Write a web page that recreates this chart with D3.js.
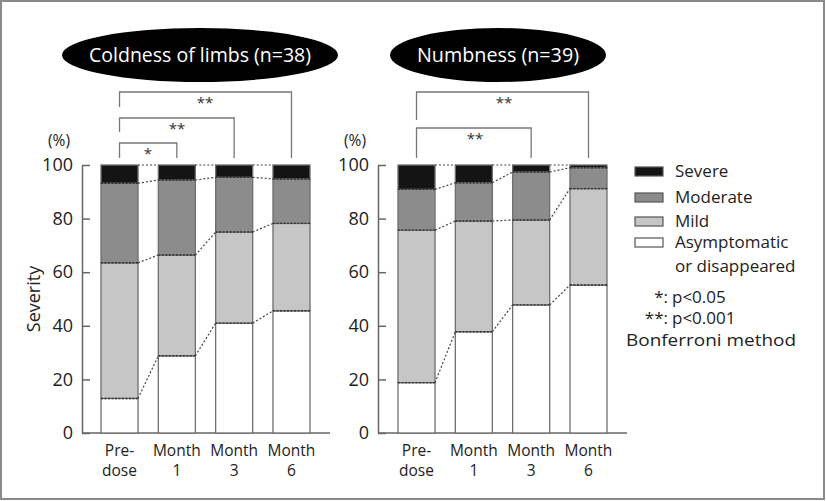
<!DOCTYPE html>
<html><head><meta charset="utf-8">
<script src="https://cdn.jsdelivr.net/npm/d3@7"></script>
<style>body{margin:0;background:#fff}svg{display:block}text{font-family:"Open Sans",sans-serif}</style>
</head><body><svg id="c" width="826" height="501"></svg>
<script>
const categories = ["Pre-dose","Month 1","Month 3","Month 6"];
const catLines = [["Pre-","dose"],["Month","1"],["Month","3"],["Month","6"]];
const layers = ["Asymptomatic or disappeared","Mild","Moderate","Severe"];
// Coldness of limbs (n=38), % per severity level
const coldAsym = [12.9, 28.8, 41.0, 45.6];
const coldMild = [50.6, 37.6, 34.0, 32.6];
const coldModerate = [29.7, 28.0, 20.4, 16.6];
const coldSevere = [6.8, 5.6, 4.6, 5.2];
// Numbness (n=39)
const numbAsym = [18.8, 37.8, 47.8, 55.2];
const numbMild = [56.9, 41.3, 31.7, 36.0];
const numbModerate = [15.2, 14.3, 17.9, 7.8];
const numbSevere = [9.1, 6.6, 2.6, 1.0];
const yTicks = [0,20,40,60,80,100];
const coldSig = [{a:0,b:1,label:"*"},{a:0,b:2,label:"**"},{a:0,b:3,label:"**"}];
const numbSig = [{a:0,b:2,label:"**"},{a:0,b:3,label:"**"}];
const legendNotes = ["*: p<0.05","**: p<0.001","Bonferroni method"];

const fills = ["#ffffff","#c6c6c6","#8c8c8c","#141414"];
const svg = d3.select("#c");
svg.append("rect").attr("x",1).attr("y",1).attr("width",823).attr("height",498)
  .attr("fill","#fff").attr("stroke","#8a8a8a").attr("stroke-width",2);

const y = d3.scaleLinear().domain([0,100]).range([433,165]);

function panel(opts){
  const g = svg.append("g");
  const x = d3.scaleBand().domain(categories).range(opts.xr).paddingInner(0.354).paddingOuter(0);
  const series = opts.data;
  const table = categories.map((c,i)=>{const o={cat:c}; layers.forEach((l,j)=>o[l]=series[j][i]); return o;});
  const stacked = d3.stack().keys(layers)(table);
  // title ellipse
  g.append("ellipse").attr("cx",opts.tcx).attr("cy",55).attr("rx",opts.trx).attr("ry",27).attr("fill","#000");
  g.append("text").attr("x",opts.tcx).attr("y",62).attr("text-anchor","middle").attr("fill","#fff")
    .attr("font-size",20).attr("textLength",opts.tlen).attr("lengthAdjust","spacingAndGlyphs").text(opts.title);
  // y axis (inward ticks)
  const ax = g.append("g").attr("transform",`translate(${opts.axisX},0)`)
    .call(d3.axisLeft(y).tickValues(yTicks).tickSizeInner(-8).tickSizeOuter(0).tickPadding(9));
  ax.select(".domain").attr("stroke","#666").attr("stroke-width",1.5);
  ax.selectAll(".tick line").attr("stroke","#666").attr("stroke-width",1.5);
  ax.selectAll(".tick text").attr("font-size",18).attr("fill","#222").attr("font-family","Open Sans");
  g.append("text").attr("x",opts.axisX-23).attr("y",146).attr("text-anchor","middle").attr("font-size",15.5).attr("fill","#222").text("(%)");
  // baseline
  g.append("line").attr("x1",opts.axisX).attr("x2",opts.baseEnd).attr("y1",y(0)).attr("y2",y(0)).attr("stroke","#666").attr("stroke-width",1.5);
  // bars
  stacked.forEach((s,j)=>{
    g.selectAll(null).data(s).enter().append("rect")
      .attr("x",d=>x(d.data.cat)).attr("width",x.bandwidth())
      .attr("y",d=>y(d[1])).attr("height",d=>y(d[0])-y(d[1]))
      .attr("fill",fills[j]).attr("stroke","#6f6f6f").attr("stroke-width",1.3);
  });
  // boundaries (dotted) on bars & connectors
  const bounds = stacked.slice(0,3).map(s=>s.map(d=>d[1]));
  bounds.push(categories.map(()=>100));
  bounds.forEach(b=>{
    b.forEach((v,i)=>{
      if(v<100) g.append("line").attr("x1",x(categories[i])).attr("x2",x(categories[i])+x.bandwidth())
        .attr("y1",y(v)).attr("y2",y(v)).attr("stroke","#333").attr("stroke-width",1.4).attr("stroke-dasharray","2,1.5");
      if(i<b.length-1){
        g.append("line").attr("x1",x(categories[i])+x.bandwidth()).attr("x2",x(categories[i+1]))
          .attr("y1",y(v)).attr("y2",y(b[i+1])).attr("stroke","#444").attr("stroke-width",1.2).attr("stroke-dasharray","2,2");
      }
    });
  });
  // x labels
  categories.forEach((c,i)=>{
    const t = g.append("text").attr("x",x(c)+x.bandwidth()/2).attr("text-anchor","middle").attr("font-size",15.5).attr("fill","#222");
    catLines[i].forEach((ln,k)=>t.append("tspan").attr("x",x(c)+x.bandwidth()/2).attr("y",456+k*20).text(ln));
  });
  // significance brackets
  opts.sig.forEach(s=>{
    const xa = x(categories[s.a])+x.bandwidth()/2, xb = x(categories[s.b])+x.bandwidth()/2;
    g.append("path").attr("d",`M${xa},${s.la}V${s.y}H${xb}V${s.lb}`).attr("fill","none").attr("stroke","#777").attr("stroke-width",1.3);
    g.append("text").attr("x",s.tx).attr("y",s.y+16).attr("text-anchor","middle").attr("font-size",15).attr("fill","#333").text(s.label);
  });
}

panel({data:[coldAsym,coldMild,coldModerate,coldSevere], xr:[101,310], axisX:82, baseEnd:330,
  tcx:200, trx:138, tlen:222, title:"Coldness of limbs (n=38)",
  sig:[Object.assign({},coldSig[0],{y:143,la:158,lb:158,tx:148}),
       Object.assign({},coldSig[1],{y:118,la:132,lb:158,tx:177}),
       Object.assign({},coldSig[2],{y:92,la:107,lb:158,tx:205})]});
panel({data:[numbAsym,numbMild,numbModerate,numbSevere], xr:[398,607], axisX:378, baseEnd:627,
  tcx:498, trx:108, tlen:162, title:"Numbness (n=39)",
  sig:[Object.assign({},numbSig[0],{y:128,la:158,lb:158,tx:475}),
       Object.assign({},numbSig[1],{y:92,la:120,lb:158,tx:504})]});

// y title
svg.append("text").attr("transform","translate(40,299) rotate(-90)").attr("text-anchor","middle").attr("font-size",18).attr("fill","#222").text("Severity");

// legend
const leg = svg.append("g");
const legOrder = [3,2,1,0];
const legY = [167,193,217,238];
legOrder.forEach((j,k)=>{
  leg.append("rect").attr("x",635).attr("y",legY[k]).attr("width",28).attr("height",9).attr("fill",fills[j]).attr("stroke","#555").attr("stroke-width",1.2);
});
const legTexts = [["Severe"],["Moderate"],["Mild"],["Asymptomatic","or disappeared"]];
legTexts.forEach((lines,k)=>{
  lines.forEach((ln,m)=>leg.append("text").attr("x",675).attr("y",legY[k]+10+m*24).attr("font-size",17).attr("fill","#222").text(ln));
});
leg.append("text").attr("x",668).attr("y",303).attr("text-anchor","end").attr("font-size",17).attr("fill","#222").text("*:");
leg.append("text").attr("x",672).attr("y",303).attr("font-size",17).attr("fill","#222").text("p<0.05");
leg.append("text").attr("x",668).attr("y",324).attr("text-anchor","end").attr("font-size",17).attr("fill","#222").text("**:");
leg.append("text").attr("x",672).attr("y",324).attr("font-size",17).attr("fill","#222").text("p<0.001");
leg.append("text").attr("x",626).attr("y",346).attr("font-size",17).attr("fill","#222")
  .attr("textLength",170).attr("lengthAdjust","spacingAndGlyphs").text(legendNotes[2]);
</script></body></html>
